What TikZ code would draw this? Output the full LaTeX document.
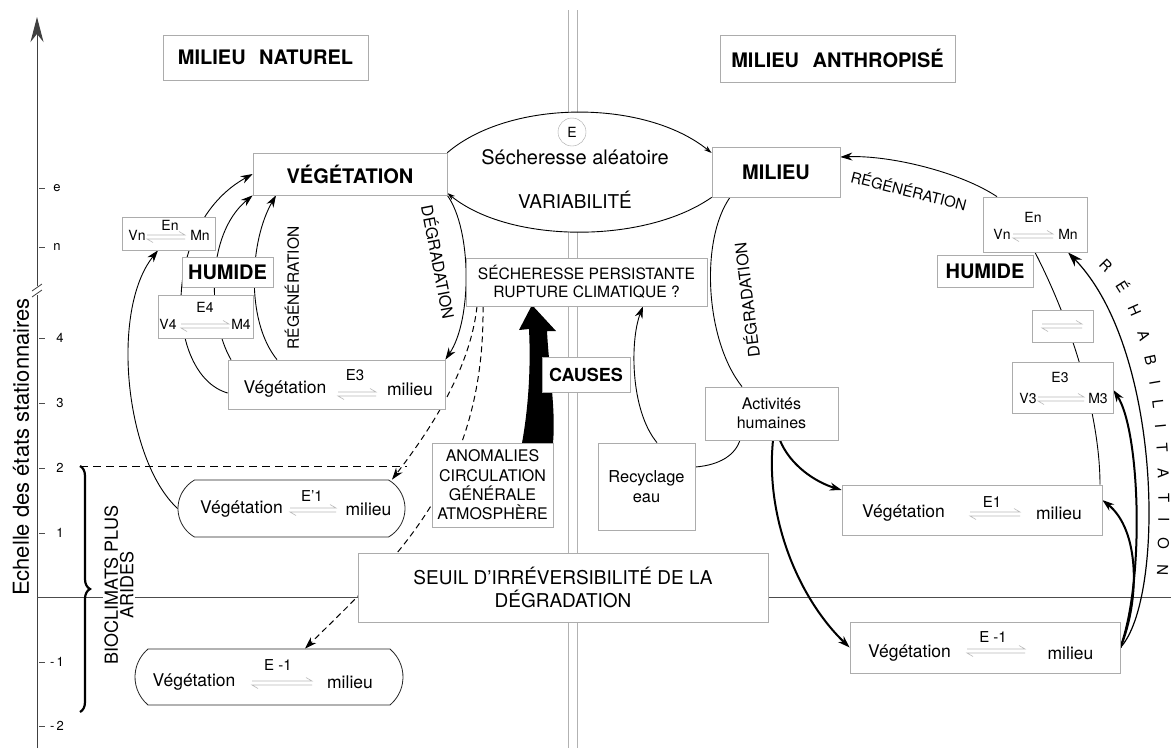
\documentclass[tikz,border=0pt]{standalone}
\usepackage{fontspec}
\setmainfont{TeX Gyre Heros}
\usetikzlibrary{arrows.meta,shapes.misc,decorations.pathreplacing,decorations.text}
\pgfdeclarelayer{bg}
\pgfsetlayers{bg,main}
\newcommand\fsz[2]{\fontsize{#1}{#2}\selectfont}
\tikzset{
  box/.style={draw=gray!65, line width=0.7pt, fill=white, inner sep=0pt, align=center},
  rbox/.style={rounded rectangle, draw=black!85, line width=0.8pt, fill=white, inner sep=0pt},
  con/.style={line width=0.9pt, draw=black},
  heavy/.style={line width=2pt, draw=black},
  tip/.style={-{Stealth[length=12pt,width=8pt]}},
  bigtip/.style={-{Stealth[length=15pt,width=10pt]}},
  smalltip/.style={-{Stealth[length=8pt,width=5pt]}},
  dashcon/.style={line width=1pt, dash pattern=on 6pt off 4pt},
  txt/.style={inner sep=0pt},
  harpst/.style={draw=gray!55, line width=0.6pt},
  pics/harp/.style={code={
    \draw[harpst] (-#1,-2) -- (#1,-2) -- (#1-6,-5.5);
    \draw[harpst] (#1,2) -- (-#1,2) -- (-#1+6,5.5);
  }},
}
\begin{document}
\begin{tikzpicture}[x=1pt,y=-1pt]
\useasboundingbox (0,0) rectangle (1171,748);

% ---------- headers
\node[box, minimum width=205pt, minimum height=45pt, font=\fsz{20}{24}\bfseries] (hnat) at (265.5,57.5) {MILIEU\hspace{0.4em} NATUREL};
\node[box, minimum width=235pt, minimum height=47pt, font=\fsz{20}{24}\bfseries] (hant) at (837.5,58.5) {MILIEU\hspace{0.4em} ANTHROPISÉ};

% ---------- axis labels
\node[txt, rotate=90, font=\fsz{22}{22}] (axl) at (21,447) {Echelle des états stationnaires};
\node[txt, font=\fsz{13}{13}] (te) at (57,188) {e};
\node[txt, font=\fsz{13}{13}] (tn) at (57,247) {n};
\node[txt, font=\fsz{13}{13}] (t4) at (60,338) {4};
\node[txt, font=\fsz{13}{13}] (t3) at (60,403) {3};
\node[txt, font=\fsz{13}{13}] (t2) at (60,468) {2};
\node[txt, font=\fsz{13}{13}] (t1) at (60,533) {1};
\node[txt, font=\fsz{13}{13}] (tm1) at (57,662) {-\,1};
\node[txt, font=\fsz{13}{13}] (tm2) at (57,726) {-\,2};
\node[rotate=90, fill=white, align=center, inner sep=1pt, font=\fsz{18}{15.5}] (bio) at (119,585) {BIOCLIMATS PLUS\\ARIDES};

% ---------- left column boxes
\node[box, minimum width=194pt, minimum height=42pt, font=\fsz{20}{24}\bfseries] (veg) at (350,174) {VÉGÉTATION};
\node[box, minimum width=93pt, minimum height=33pt] (vnl) at (168.5,233.5) {};
\node[box, minimum width=91pt, minimum height=30pt, font=\fsz{20}{24}\bfseries] (huml) at (227.5,272) {HUMIDE};
\node[box, minimum width=95pt, minimum height=43pt] (v4) at (205.5,316.5) {};
\node[box, minimum width=217pt, minimum height=49pt] (e3l) at (336.5,384.5) {};
\node[rbox, rounded rectangle arc length=120, minimum width=227pt, minimum height=57pt] (e1p) at (291.5,508.5) {};
\node[rbox, rounded rectangle arc length=100, minimum width=268pt, minimum height=56pt] (em1l) at (269,677) {};

% ---------- centre
\node[circle, draw=gray!70, fill=white, minimum size=28pt, inner sep=0pt, font=\fsz{14}{14}] (ecirc) at (572,132) {E};
\node[txt, font=\fsz{20}{24}] (secal) at (575,157) {Sécheresse aléatoire};
\node[txt, font=\fsz{19}{23}] (var) at (575,200) {VARIABILITÉ};
\node[box, minimum width=241pt, minimum height=48pt, font=\fsz{15.6}{18}] (sech) at (586.5,282) {SÉCHERESSE PERSISTANTE\\RUPTURE CLIMATIQUE ?};
\node[box, minimum width=88pt, minimum height=35pt, font=\fsz{18}{22}\bfseries] (causes) at (586,374.5) {CAUSES};
\node[box, minimum width=121pt, minimum height=84pt, font=\fsz{16}{19.3}] (anom) at (492.5,485) {ANOMALIES\\CIRCULATION\\GÉNÉRALE\\ATMOSPHÈRE};
\node[box, minimum width=97pt, minimum height=87pt, font=\fsz{16.4}{20}] (recy) at (646.5,486.5) {Recyclage\\eau};
\node[box, minimum width=410pt, minimum height=69pt, font=\fsz{19}{23}] (seuil) at (563,587.5) {SEUIL D'IRRÉVERSIBILITÉ DE LA\\DÉGRADATION};

% ---------- right column
\node[box, minimum width=128pt, minimum height=50pt, font=\fsz{20}{24}\bfseries] (mil) at (776,172) {MILIEU};
\node[box, minimum width=133pt, minimum height=53pt, font=\fsz{16}{19}] (act) at (771.5,413.5) {Activités\\humaines};
\node[box, minimum width=104pt, minimum height=55pt] (enr) at (1035,224.5) {};
\node[box, minimum width=96pt, minimum height=32pt, font=\fsz{20}{24}\bfseries] (humr) at (985,271) {HUMIDE};
\node[box, minimum width=61pt, minimum height=32pt] (smb) at (1062.5,326) {};
\node[box, minimum width=101pt, minimum height=51pt] (e3r) at (1062.5,387.5) {};
\node[box, minimum width=260pt, minimum height=50pt] (e1r) at (972,510) {};
\node[box, minimum width=270pt, minimum height=51pt] (em1r) at (985,647.5) {};

% ---------- texts inside the state boxes
\node[txt, font=\fsz{14}{14}] (vnlV) at (137,235) {Vn};
\node[txt, font=\fsz{14}{14}] (vnlM) at (200,235) {Mn};
\node[txt, font=\fsz{14}{14}] (vnlE) at (170,225) {En};
\pic at (166,237) {harp=19};
\node[txt, font=\fsz{14}{14}] (v4E) at (205,307) {E4};
\node[txt, font=\fsz{14}{14}] (v4V) at (168,324) {V4};
\node[txt, font=\fsz{14}{14}] (v4M) at (241,324) {M4};
\pic at (205,326) {harp=24};
\node[txt, font=\fsz{17.5}{20}] (e3lV) at (285,389) {Végétation};
\node[txt, font=\fsz{15}{15}] (e3lE) at (355,375) {E3};
\pic at (357,394) {harp=19};
\node[txt, font=\fsz{17.5}{20}] (e3lM) at (410,389) {milieu};
\node[txt, font=\fsz{17.5}{20}] (e1pV) at (241.5,509) {Végétation};
\node[txt, font=\fsz{15}{15}] (e1pE) at (312,496) {E'1};
\pic at (313,510) {harp=23};
\node[txt, font=\fsz{17.5}{20}] (e1pM) at (368.5,509) {milieu};
\node[txt, font=\fsz{17.5}{20}] (em1lV) at (194,682) {Végétation};
\node[txt, font=\fsz{15}{15}] (em1lE) at (278,665) {E -1};
\pic at (282,683) {harp=30};
\node[txt, font=\fsz{17.5}{20}] (em1lM) at (350,682) {milieu};
\node[txt, font=\fsz{14}{14}] (enrE) at (1033,217) {En};
\node[txt, font=\fsz{14}{14}] (enrV) at (1002,234) {Vn};
\node[txt, font=\fsz{14}{14}] (enrM) at (1068,234) {Mn};
\pic at (1033,236) {harp=20};
\pic at (1062,326) {harp=20};
\node[txt, font=\fsz{14}{14}] (e3rE) at (1060,377) {E3};
\node[txt, font=\fsz{14}{14}] (e3rV) at (1028,398) {V3};
\node[txt, font=\fsz{14}{14}] (e3rM) at (1098,398) {M3};
\pic at (1061,399) {harp=23};
\node[txt, font=\fsz{17.5}{20}] (e1rV) at (903.5,513) {Végétation};
\node[txt, font=\fsz{15}{15}] (e1rE) at (992,502) {E1};
\pic at (995,514) {harp=25};
\node[txt, font=\fsz{17.5}{20}] (e1rM) at (1059,513) {milieu};
\node[txt, font=\fsz{17.5}{20}] (em1rV) at (909.5,653) {Végétation};
\node[txt, font=\fsz{15}{15}] (em1rE) at (993,637) {E -1};
\pic at (996,651) {harp=29};
\node[txt, font=\fsz{17.5}{20}] (em1rM) at (1070.5,653) {milieu};

% ---------- connector labels
\node[txt, rotate=90, font=\fsz{15.5}{16}] (regl) at (292,288) {RÉGÉNÉRATION};
\node[txt, rotate=-79, font=\fsz{16}{16}] (degl) at (439,262) {DÉGRADATION};
\node[txt, rotate=97, font=\fsz{16}{16}] (degr) at (746,300) {DÉGRADATION};
\node[txt, rotate=-14, font=\fsz{15}{15}] (regr) at (909,190) {RÉGÉNÉRATION};
\path[decorate, decoration={text along path, text={|\fsz{15}{15}|R É H A B I L I T A T I O N}, text align={fit to path stretching spaces}}] (1098,266) .. controls (1156,320) and (1162,450) .. (1157,575);

\begin{pgfonlayer}{bg}
\fill[white] (0,0) rectangle (1171,748);
% axis
\draw[black!75, line width=1pt, -{Stealth[length=25pt,width=13pt]}] (37,748) -- (37,17);
\fill[white] (32,286) rectangle (42,295);
\draw[black!75, line width=0.8pt] (32,291) -- (42,284) (32,297) -- (42,290);
\foreach \yy in {188,247,338,403,468,533,662,726} \draw[black!70, line width=0.8pt] (39,\yy) -- (45,\yy);
\draw[black!70, line width=0.8pt] (37,597) -- (1171,597);
\draw[black, line width=0.9pt, dash pattern=on 8pt off 5pt] (80,466) -- (407,466);
\draw[decorate, decoration={brace, amplitude=10pt}, line width=2.2pt] (80,466) -- (80,712);
% double separator
\draw[gray!60, line width=0.8pt] (568,10) -- (568,748) (577,10) -- (577,748);
% lens
\fill[white] (veg.north east) .. controls (510,99) and (645,99) .. (mil.west |- 0,153) -- (mil.south west) .. controls (645,244) and (510,244) .. (veg.south east |- 0,193) -- cycle;
\draw[con, smalltip] (veg.north east) .. controls (510,99) and (645,99) .. (mil.west |- 0,153);
\draw[con, smalltip] (mil.south west) .. controls (645,244) and (510,244) .. (veg.south east |- 0,193);
% left curves
\draw[con, tip] (e3l.west |- 0,393) .. controls (165,375) and (160,225) .. (veg.west);
\draw[con, tip] (231,0 |- e3l.north) .. controls (208,320) and (205,235) .. (veg.south west);
\draw[con, tip] (277,0 |- e3l.north) .. controls (245,320) and (250,240) .. (276,0 |- veg.south);
\draw[con, tip] (e1p.west) .. controls (125,460) and (110,310) .. (158,0 |- vnl.south);
\draw[con, tip] (veg.south east) .. controls (472,230) and (472,320) .. (e3l.north east);
% dashed
\draw[dashcon, tip] (477,0 |- sech.south) .. controls (470,370) and (430,430) .. (392,0 |- e1p.north);
\draw[dashcon, tip] (483,0 |- sech.south) .. controls (485,480) and (395,560) .. (305,0 |- em1l.north);
% causes thick arrow
\fill[black] (522,443) .. controls (528,410) and (531,370) .. (529,329) -- (519,330) -- (532,305) -- (556,331) -- (547,331) .. controls (549,370) and (556,410) .. (553,443) -- cycle;
\draw[con, tip] (657,0 |- recy.north) .. controls (630,410) and (630,340) .. (643,0 |- sech.south);
\draw[con] (recy.east |- 0,467) .. controls (720,465) and (735,455) .. (740,0 |- act.south);
% right
\draw[con] (730,0 |- mil.south) .. controls (700,240) and (705,340) .. (742,0 |- act.north);
\draw[heavy, tip] (780,0 |- act.south) .. controls (790,465) and (815,482) .. (e1r.west |- 0,490);
\draw[heavy, tip] (773,0 |- act.south) .. controls (765,520) and (800,600) .. (em1r.west);
\draw[con, tip] (997,0 |- enr.north) .. controls (960,172) and (890,155) .. (mil.east |- 0,157);
\draw[con] (1035,0 |- enr.south) .. controls (1075,330) and (1100,420) .. (1100,0 |- e1r.north);
\draw[heavy, tip] (em1r.east) .. controls (1140,600) and (1140,530) .. (e1r.east |- 0,500);
\draw[heavy, tip] (em1r.east) .. controls (1145,580) and (1140,430) .. (e3r.east |- 0,390);
\draw[line width=1.2pt, bigtip] (em1r.east) .. controls (1165,600) and (1163,350) .. (1068,0 |- enr.south);
\end{pgfonlayer}
\end{tikzpicture}
\end{document}
